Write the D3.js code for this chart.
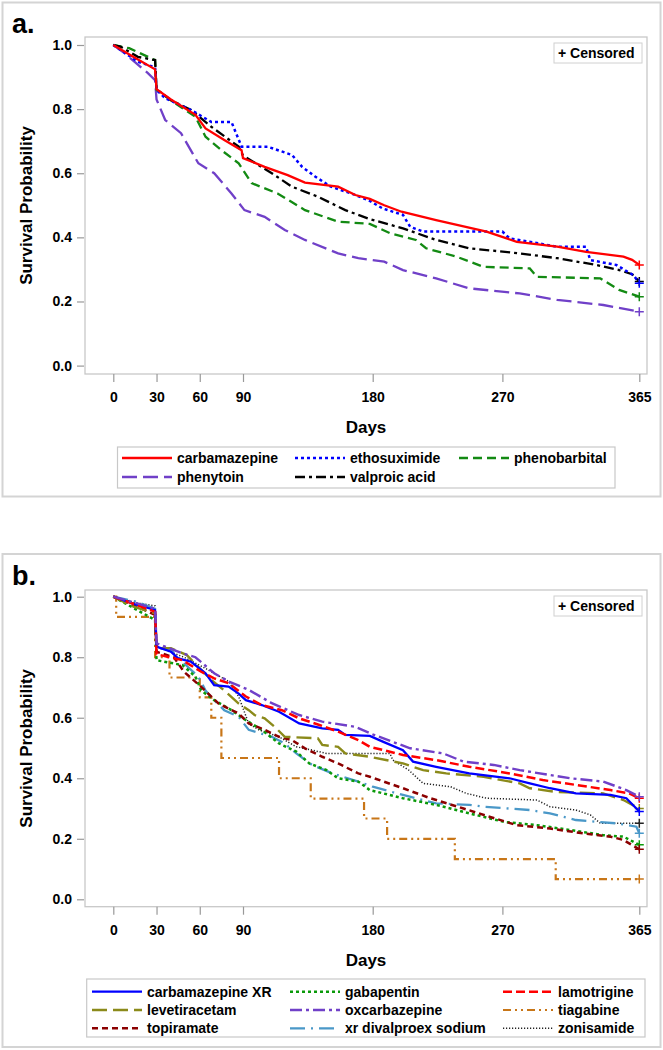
<!DOCTYPE html>
<html>
<head>
<meta charset="utf-8">
<script src="https://cdn.jsdelivr.net/npm/d3@7"></script>
<style>
  html, body { margin: 0; padding: 0; background: #fff; }
  svg { display: block; }
  text { font-family: "Liberation Sans", Arial, sans-serif; font-weight: bold; fill: #000; }
</style>
</head>
<body>
<svg id="chart" width="663" height="1050"></svg>
<script>
// ---------- DATA ----------
const dayTicks = [0, 30, 60, 90, 180, 270, 365];
const survTicks = [0, 0.2, 0.4, 0.6, 0.8, 1.0];

// Panel a series: [day, survival]
const carbamazepine = [[0,1],[15,0.96],[29,0.924],[30,0.862],[40,0.83],[57,0.782],[64,0.74],[77,0.704],[89,0.672],[90,0.647],[105,0.62],[121,0.594],[133,0.571],[156,0.558],[168,0.532],[178,0.52],[188,0.5],[200,0.48],[224,0.454],[259,0.418],[280,0.386],[308,0.371],[328,0.355],[354,0.34],[360,0.33],[365,0.314]];
const ethosuximide = [[0,1],[17,0.948],[29,0.93],[30,0.86],[36,0.834],[54,0.797],[68,0.76],[82,0.76],[89,0.683],[107,0.683],[124,0.657],[131,0.62],[140,0.59],[151,0.558],[165,0.537],[177,0.516],[187,0.49],[201,0.47],[206,0.433],[215,0.418],[270,0.418],[275,0.397],[308,0.371],[328,0.371],[331,0.329],[349,0.314],[361,0.282],[365,0.257]];
const phenobarbital = [[0,1],[11,0.99],[29,0.953],[30,0.86],[43,0.818],[57,0.776],[64,0.714],[75,0.672],[87,0.631],[96,0.569],[114,0.537],[133,0.485],[156,0.449],[178,0.442],[192,0.413],[210,0.392],[217,0.366],[238,0.34],[257,0.308],[289,0.303],[294,0.277],[338,0.272],[351,0.236],[365,0.215]];
const phenytoin = [[0,1],[8,0.974],[24,0.912],[29,0.89],[30,0.83],[36,0.766],[47,0.725],[59,0.631],[70,0.6],[82,0.537],[91,0.485],[105,0.464],[119,0.423],[133,0.392],[156,0.35],[170,0.335],[188,0.324],[201,0.298],[224,0.272],[247,0.241],[282,0.225],[308,0.205],[340,0.189],[365,0.168]];
const valproicAcid = [[0,1],[5,0.995],[17,0.963],[29,0.953],[30,0.862],[40,0.828],[54,0.797],[68,0.745],[87,0.683],[90,0.655],[110,0.6],[124,0.558],[142,0.527],[161,0.485],[178,0.457],[201,0.428],[224,0.392],[247,0.366],[282,0.35],[308,0.335],[335,0.314],[351,0.298],[360,0.285],[365,0.262]];

// Panel b series
const carbamazepineXR = [[0,1],[15,0.975],[29,0.956],[30,0.835],[40,0.818],[45,0.796],[54,0.785],[64,0.747],[70,0.708],[80,0.703],[87,0.68],[92,0.658],[103,0.642],[115,0.62],[129,0.581],[145,0.565],[156,0.56],[161,0.543],[178,0.54],[187,0.521],[201,0.493],[208,0.455],[224,0.438],[247,0.416],[275,0.4],[289,0.383],[303,0.367],[321,0.35],[345,0.345],[356,0.334],[365,0.29]];
const gabapentin = [[0,1],[15,0.96],[29,0.923],[30,0.79],[48,0.774],[57,0.736],[61,0.69],[70,0.658],[82,0.625],[92,0.592],[103,0.56],[115,0.515],[127,0.488],[136,0.449],[148,0.427],[156,0.4],[170,0.389],[178,0.361],[201,0.334],[224,0.312],[247,0.284],[271,0.256],[294,0.245],[317,0.229],[340,0.212],[354,0.207],[365,0.18]];
const lamotrigine = [[0,1],[15,0.975],[29,0.95],[30,0.81],[48,0.79],[61,0.752],[70,0.73],[80,0.714],[92,0.67],[103,0.642],[117,0.625],[129,0.598],[143,0.576],[156,0.554],[170,0.526],[178,0.504],[201,0.477],[224,0.46],[247,0.438],[275,0.416],[298,0.394],[321,0.378],[345,0.361],[358,0.35],[365,0.334]];
const levetiracetam = [[0,1],[14,0.967],[29,0.945],[30,0.83],[40,0.83],[51,0.807],[61,0.758],[68,0.725],[77,0.69],[87,0.647],[94,0.625],[98,0.609],[105,0.598],[112,0.57],[119,0.537],[142,0.532],[145,0.51],[156,0.504],[161,0.482],[178,0.471],[201,0.449],[215,0.427],[231,0.416],[257,0.405],[282,0.383],[289,0.367],[307,0.355],[340,0.35],[354,0.328],[365,0.3]];
const oxcarbazepine = [[0,1],[15,0.98],[29,0.96],[30,0.846],[48,0.813],[57,0.8],[70,0.747],[80,0.72],[94,0.692],[110,0.648],[129,0.609],[145,0.587],[168,0.57],[180,0.545],[206,0.499],[229,0.482],[243,0.455],[264,0.444],[282,0.427],[317,0.4],[340,0.389],[356,0.361],[365,0.339]];
const tiagabine = [[0,1],[2,0.933],[29,0.8],[39,0.733],[60,0.667],[68,0.6],[75,0.467],[115,0.4],[137,0.333],[174,0.267],[190,0.2],[237,0.133],[307,0.067],[365,0.067]];
const topiramate = [[0,1],[15,0.97],[29,0.94],[30,0.818],[42,0.8],[49,0.752],[61,0.702],[73,0.647],[87,0.614],[94,0.581],[105,0.56],[115,0.537],[124,0.526],[133,0.499],[145,0.471],[156,0.449],[170,0.416],[178,0.405],[201,0.367],[220,0.334],[243,0.3],[261,0.273],[280,0.245],[303,0.234],[326,0.218],[345,0.207],[354,0.196],[365,0.165]];
const xrDivalproex = [[0,1],[15,0.985],[29,0.96],[30,0.83],[40,0.824],[49,0.78],[59,0.736],[64,0.69],[70,0.658],[77,0.625],[87,0.603],[94,0.56],[110,0.537],[119,0.515],[127,0.482],[138,0.444],[152,0.416],[170,0.389],[180,0.372],[201,0.345],[224,0.317],[247,0.312],[257,0.306],[289,0.295],[303,0.284],[312,0.273],[321,0.262],[349,0.251],[363,0.24],[365,0.218]];
const zonisamide = [[0,1],[15,0.98],[29,0.97],[30,0.835],[49,0.8],[64,0.763],[80,0.72],[87,0.67],[94,0.58],[101,0.56],[115,0.537],[127,0.504],[138,0.493],[148,0.482],[192,0.482],[194,0.46],[205,0.427],[215,0.383],[234,0.372],[245,0.35],[259,0.334],[294,0.328],[303,0.306],[321,0.295],[331,0.279],[338,0.251],[365,0.251]];

const namesA = ["carbamazepine","ethosuximide","phenobarbital","phenytoin","valproic acid"];
const seriesA = [carbamazepine, ethosuximide, phenobarbital, phenytoin, valproicAcid];
const namesB = ["carbamazepine XR","gabapentin","lamotrigine","levetiracetam","oxcarbazepine","tiagabine","topiramate","xr divalproex sodium","zonisamide"];
const seriesB = [carbamazepineXR, gabapentin, lamotrigine, levetiracetam, oxcarbazepine, tiagabine, topiramate, xrDivalproex, zonisamide];

// ---------- STYLES ----------
const styleA = {
  "carbamazepine": {color:"#ff0000", dash:null, w:2.3},
  "ethosuximide": {color:"#0000ff", dash:"3,3", w:2.5},
  "phenobarbital": {color:"#138a13", dash:"9,5", w:2.3},
  "phenytoin": {color:"#7040c8", dash:"15,6", w:2.3},
  "valproic acid": {color:"#000000", dash:"10,4,3,4", w:2.3}
};
const styleB = {
  "carbamazepine XR": {color:"#0000ff", dash:null, w:2.3},
  "gabapentin": {color:"#0a9a0a", dash:"3,3", w:2.5},
  "lamotrigine": {color:"#ff0000", dash:"9,4", w:2.5},
  "levetiracetam": {color:"#8b8a1a", dash:"15,6", w:2.4},
  "oxcarbazepine": {color:"#7040c8", dash:"12,4,3,4", w:2.4},
  "tiagabine": {color:"#c87618", dash:"8,4,2,4,2,4", w:2.2, step:true},
  "topiramate": {color:"#8b0000", dash:"6,4", w:2.5},
  "xr divalproex sodium": {color:"#4a98c8", dash:"15,6,2,6", w:2.3},
  "zonisamide": {color:"#222222", dash:"1.2,1.8", w:1.5}
};

const svg = d3.select("#chart");

function drawPanel(cfg) {
  const g = svg.append("g");
  g.append("rect").attr("x", 2.5).attr("y", cfg.boxTop).attr("width", 658).attr("height", cfg.boxH)
    .attr("fill", "none").attr("stroke", "#d4d4d4").attr("stroke-width", 2);
  g.append("text").attr("x", 12).attr("y", cfg.labelY).style("font-size", "27px").text(cfg.label);

  const x = d3.scaleLinear().domain([0, 365]).range([113.3, 639.3]);
  const y = d3.scaleLinear().domain([0, 1]).range([cfg.y0, cfg.y1]);

  g.append("rect").attr("x", 85).attr("y", cfg.fTop).attr("width", 562).attr("height", cfg.fBot - cfg.fTop)
    .attr("fill", "none").attr("stroke", "#c8c8c8").attr("stroke-width", 1.3);

  const ya = g.append("g").attr("transform", "translate(84,0)")
    .call(d3.axisLeft(y).tickValues(survTicks).tickFormat(d3.format(".1f")).tickSize(7).tickPadding(5));
  ya.select(".domain").remove();
  ya.selectAll(".tick line").attr("stroke", "#999").attr("stroke-width", 1.2);
  ya.selectAll(".tick text").style("font-size", "14px").style("font-family", "Liberation Sans, Arial, sans-serif").style("font-weight", "bold").attr("fill", "#000");

  const xa = g.append("g").attr("transform", `translate(0,${cfg.fBot})`)
    .call(d3.axisBottom(x).tickValues(dayTicks).tickFormat(d3.format("d")).tickSize(8).tickPadding(10));
  xa.select(".domain").remove();
  xa.selectAll(".tick line").attr("stroke", "#999").attr("stroke-width", 1.2);
  xa.selectAll(".tick text").style("font-size", "14px").style("font-family", "Liberation Sans, Arial, sans-serif").style("font-weight", "bold").attr("fill", "#000");

  g.append("text").attr("x", 366).attr("y", cfg.fBot + 59).attr("text-anchor", "middle").style("font-size", "17px").text("Days");
  const cy = (cfg.fTop + cfg.fBot) / 2;
  g.append("text").attr("transform", `translate(32,${cy}) rotate(-90)`).attr("text-anchor", "middle").style("font-size", "17px").text("Survival Probability");

  g.append("rect").attr("x", 554).attr("y", cfg.fTop + 6).attr("width", 88).attr("height", 20)
    .attr("fill", "#fff").attr("stroke", "#d0d0d0").attr("stroke-width", 1);
  g.append("text").attr("x", 558).attr("y", cfg.fTop + 21).style("font-size", "14px").text("+ Censored");

  const clipId = "clip" + cfg.label.replace(".", "");
  svg.append("clipPath").attr("id", clipId).append("rect").attr("x", 85).attr("y", cfg.fTop).attr("width", 562).attr("height", cfg.fBot - cfg.fTop);
  const plot = g.append("g").attr("clip-path", `url(#${clipId})`);
  cfg.drawOrder.forEach(i => {
    const name = cfg.names[i], data = cfg.series[i], st = cfg.styles[name];
    const line = d3.line().x(d => x(d[0])).y(d => y(d[1])).curve(st.step ? d3.curveStepAfter : d3.curveLinear);
    plot.append("path").datum(data).attr("d", line).attr("fill", "none")
      .attr("stroke", st.color).attr("stroke-width", st.w)
      .attr("stroke-dasharray", st.dash).attr("stroke-linejoin", "miter");
    const last = data[data.length - 1];
    const cx = x(last[0]), cyy = y(last[1]);
    plot.append("path").attr("d", `M${cx-4.5},${cyy}H${cx+4.5}M${cx},${cyy-4.5}V${cyy+4.5}`)
      .attr("stroke", st.color).attr("stroke-width", 1.5).attr("fill", "none");
  });

  const L = cfg.legend;
  g.append("rect").attr("x", L.x).attr("y", L.y).attr("width", L.w).attr("height", L.h)
    .attr("fill", "#fff").attr("stroke", "#c8c8c8").attr("stroke-width", 1.2);
  cfg.names.forEach((name, i) => {
    const st = cfg.styles[name];
    const col = i % L.cols.length, row = Math.floor(i / L.cols.length);
    const lx = L.cols[col], ly = L.rows[row];
    g.append("line").attr("x1", lx).attr("x2", lx + 50).attr("y1", ly).attr("y2", ly)
      .attr("stroke", st.color).attr("stroke-width", st.w).attr("stroke-dasharray", st.dash);
    g.append("text").attr("x", lx + 55).attr("y", ly + 5).style("font-size", "14px").text(name);
  });
}

drawPanel({
  label: "a.", labelY: 33, boxTop: 2.5, boxH: 494,
  fTop: 37, fBot: 374, y0: 365.6, y1: 45,
  names: namesA, series: seriesA, styles: styleA,
  drawOrder: [3, 2, 4, 1, 0],
  legend: {x: 117.5, y: 447, w: 497.5, h: 41, cols: [122, 295, 459], rows: [458, 477]}
});

drawPanel({
  label: "b.", labelY: 585, boxTop: 554, boxH: 493,
  fTop: 590, fBot: 906.7, y0: 899.3, y1: 596.7,
  names: namesB, series: seriesB, styles: styleB,
  drawOrder: [5, 8, 7, 1, 6, 3, 0, 2, 4],
  legend: {x: 86.7, y: 979, w: 558.3, h: 58, cols: [92, 290, 503], rows: [991.7, 1010, 1028.3]}
});
</script>
</body>
</html>
